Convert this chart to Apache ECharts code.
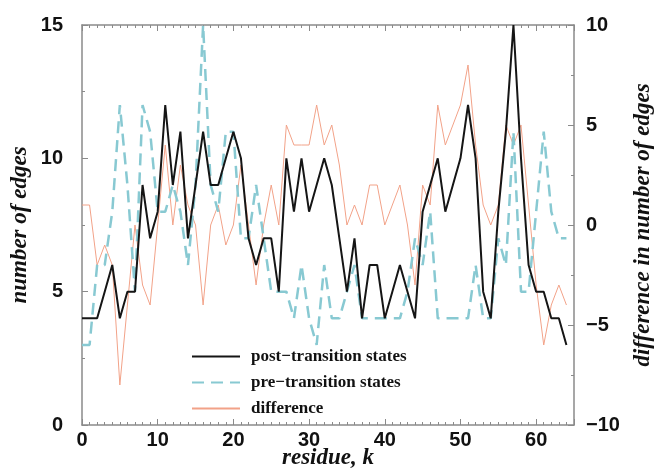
<!DOCTYPE html>
<html>
<head>
<meta charset="utf-8">
<script src="https://cdn.jsdelivr.net/npm/echarts@6/dist/echarts.min.js"></script>
<style>
  html, body { margin: 0; padding: 0; background: #fff; }
  #chart { width: 654px; height: 468px; }
</style>
</head>
<body>
<div id="chart"></div>
<script>
const residues = [0, 1, 2, 3, 4, 5, 6, 7, 8, 9, 10, 11, 12, 13, 14, 15, 16, 17, 18, 19, 20,
  21, 22, 23, 24, 25, 26, 27, 28, 29, 30, 31, 32, 33, 34, 35, 36, 37, 38, 39, 40,
  41, 42, 43, 44, 45, 46, 47, 48, 49, 50, 51, 52, 53, 54, 55, 56, 57, 58, 59, 60,
  61, 62, 63, 64];
const postEdges = [4, 4, 4, 5, 6, 4, 5, 5, 9, 7, 8, 12, 9, 11, 7, 9, 11, 9, 9, 10, 11,
  10, 7, 6, 7, 7, 5, 10, 8, 10, 8, 9, 10, 9, 7, 5, 7, 4, 6, 6, 4,
  5, 6, 5, 4, 8, 9, 10, 8, 9, 10, 12, 10, 5, 4, 8, 11, 15, 10, 6, 5,
  5, 4, 4, 3];
const preEdges = [3, 3, 6, 6, 8, 12, 9, 5, 12, 11, 8, 8, 9, 8, 6, 9, 15, 9, 8, 11, 11,
  7, 7, 9, 7, 5, 5, 5, 4, 6, 4, 3, 6, 4, 4, 5, 6, 4, 4, 4, 4,
  4, 4, 5, 7, 6, 8, 4, 4, 4, 4, 4, 6, 4, 4, 7, 6, 11, 5, 5, 8,
  11, 8, 7, 7];
const difference = [1, 1, -2, -1, -2, -8, -4, 0, -3, -4, 0, 4, 0, 3, 1, 0, -4, 0, 1, -1, 0,
  3, 0, -3, 0, 2, 0, 5, 4, 4, 4, 6, 4, 5, 3, 0, 1, 0, 2, 2, 0,
  1, 2, 0, -3, 2, 1, 6, 4, 5, 6, 8, 4, 1, 0, 1, 5, 4, 5, 1, -3,
  -6, -4, -3, -4];
const seriesNames = ['post\u2212transition states', 'pre\u2212transition states', 'difference'];

const pairs = (vals) => vals.map((v, i) => [residues[i], v]);
const minus = (v) => String(v).replace('-', '\u2212');

const tickFont = { color: '#111', fontFamily: 'Liberation Sans, Arial, sans-serif', fontWeight: 'bold', fontSize: 20 };
const nameFont = { color: '#111', fontFamily: 'Liberation Serif, Times New Roman, serif', fontStyle: 'italic', fontWeight: 'bold', fontSize: 23 };
const frame = { show: true, onZero: false, lineStyle: { color: '#8a8a8a', width: 1.5 } };
const inTick = { show: true, inside: true, length: 6, lineStyle: { color: '#8a8a8a' } };
const inMinor = { show: true, length: 3, lineStyle: { color: '#8a8a8a' } };

const chart = echarts.init(document.getElementById('chart'));
chart.setOption({
  animation: false,
  grid: { left: 82, right: 80, top: 25, bottom: 43, containLabel: false, outerBoundsMode: 'none' },
  legend: {
    orient: 'vertical', left: 186, top: 343, itemWidth: 48, itemHeight: 14, itemGap: 9,
    data: seriesNames,
    itemStyle: { opacity: 0 },
    textStyle: { color: '#111', fontFamily: 'Liberation Serif, Times New Roman, serif', fontWeight: 'bold', fontSize: 17, padding: [0, 0, 0, 6] }
  },
  xAxis: [
    {
      type: 'value', min: 0, max: 65, interval: 10, position: 'bottom',
      name: 'residue, k', nameLocation: 'middle', nameGap: 22, nameMoveOverlap: false, nameTextStyle: nameFont,
      axisLine: frame, axisTick: inTick, minorTick: { ...inMinor, splitNumber: 10 },
      axisLabel: { ...tickFont, margin: 5, showMaxLabel: false }, splitLine: { show: false }
    },
    {
      type: 'value', min: 0, max: 65, interval: 10, position: 'top',
      axisLine: frame, axisTick: inTick, minorTick: { ...inMinor, splitNumber: 10 },
      axisLabel: { show: false }, splitLine: { show: false }
    }
  ],
  yAxis: [
    {
      type: 'value', min: 0, max: 15, interval: 5, position: 'left',
      name: 'number of edges', nameLocation: 'middle', nameRotate: 90, nameGap: 50, nameMoveOverlap: false, nameTextStyle: nameFont,
      axisLine: frame, axisTick: inTick, minorTick: { ...inMinor, splitNumber: 2 },
      axisLabel: { ...tickFont, margin: 19 }, splitLine: { show: false }
    },
    {
      type: 'value', min: -10, max: 10, interval: 5, position: 'right',
      name: 'difference in number of edges', nameLocation: 'middle', nameRotate: 90, nameGap: 58, nameMoveOverlap: false, nameTextStyle: nameFont,
      axisLine: frame, axisTick: inTick, minorTick: { ...inMinor, splitNumber: 2 },
      axisLabel: { ...tickFont, margin: 12, formatter: minus }, splitLine: { show: false }
    }
  ],
  series: [
    {
      name: seriesNames[2], type: 'line', yAxisIndex: 1, symbol: 'none', z: 1,
      data: pairs(difference), lineStyle: { color: '#f2a288', width: 1 }, itemStyle: { color: '#f2a288' }
    },
    {
      name: seriesNames[1], type: 'line', symbol: 'none', z: 2,
      data: pairs(preEdges), lineStyle: { color: '#88c9d2', width: 2.5, type: [12, 7] }, itemStyle: { color: '#88c9d2' }
    },
    {
      name: seriesNames[0], type: 'line', symbol: 'none', z: 3,
      data: pairs(postEdges), lineStyle: { color: '#151515', width: 2 }, itemStyle: { color: '#151515' }
    }
  ]
});
</script>
</body>
</html>
